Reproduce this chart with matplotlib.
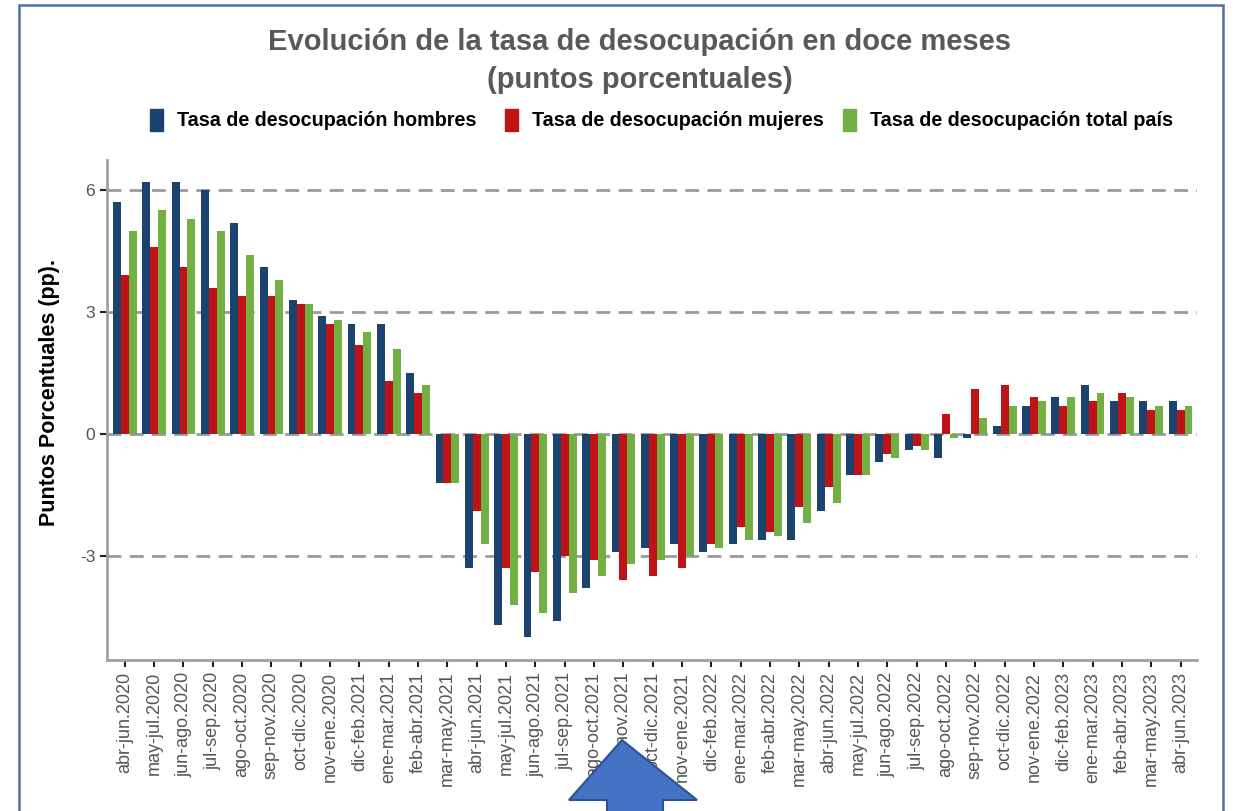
import numpy as np
import matplotlib.pyplot as plt
from matplotlib.patches import Rectangle, Polygon

periodos = ["abr-jun.2020", "may-jul.2020", "jun-ago.2020", "jul-sep.2020", "ago-oct.2020",
            "sep-nov.2020", "oct-dic.2020", "nov-ene.2020", "dic-feb.2021", "ene-mar.2021",
            "feb-abr.2021", "mar-may.2021", "abr-jun.2021", "may-jul.2021", "jun-ago.2021",
            "jul-sep.2021", "ago-oct.2021", "sep-nov.2021", "oct-dic.2021", "nov-ene.2021",
            "dic-feb.2022", "ene-mar.2022", "feb-abr.2022", "mar-may.2022", "abr-jun.2022",
            "may-jul.2022", "jun-ago.2022", "jul-sep.2022", "ago-oct.2022", "sep-nov.2022",
            "oct-dic.2022", "nov-ene.2022", "dic-feb.2023", "ene-mar.2023", "feb-abr.2023",
            "mar-may.2023", "abr-jun.2023"]

hombres = [5.7, 6.2, 6.2, 6.0, 5.2, 4.1, 3.3, 2.9, 2.7, 2.7,
           1.5, -1.2, -3.3, -4.7, -5.0, -4.6, -3.8, -2.9, -2.8, -2.7,
           -2.9, -2.7, -2.6, -2.6, -1.9, -1.0, -0.7, -0.4, -0.6, -0.1,
           0.2, 0.7, 0.9, 1.2, 0.8, 0.8, 0.8]
mujeres = [3.9, 4.6, 4.1, 3.6, 3.4, 3.4, 3.2, 2.7, 2.2, 1.3,
           1.0, -1.2, -1.9, -3.3, -3.4, -3.0, -3.1, -3.6, -3.5, -3.3,
           -2.7, -2.3, -2.4, -1.8, -1.3, -1.0, -0.5, -0.3, 0.5, 1.1,
           1.2, 0.9, 0.7, 0.8, 1.0, 0.6, 0.6]
total = [5.0, 5.5, 5.3, 5.0, 4.4, 3.8, 3.2, 2.8, 2.5, 2.1,
         1.2, -1.2, -2.7, -4.2, -4.4, -3.9, -3.5, -3.2, -3.1, -3.0,
         -2.8, -2.6, -2.5, -2.2, -1.7, -1.0, -0.6, -0.4, -0.1, 0.4,
         0.7, 0.8, 0.9, 1.0, 0.9, 0.7, 0.7]

c_h = "#1c4370"
c_m = "#c01318"
c_t = "#72b043"

plt.rcParams['font.family'] = ["Liberation Sans", "DejaVu Sans"]

fig = plt.figure(figsize=(12.35, 8.11), dpi=100)
ax = fig.add_axes([0.0866, 0.1862, 0.8824, 0.6165])

x = np.arange(len(periodos))
w = 0.27
ax.bar(x - w, hombres, w, color=c_h, zorder=3)
ax.bar(x, mujeres, w, color=c_m, zorder=3)
ax.bar(x + w, total, w, color=c_t, zorder=3)

for yv in [6, 3, 0, -3]:
    ax.axhline(yv, color="#9a9a9a", lw=2, ls=(0, (5, 3)), zorder=1)

ax.set_xlim(-0.61, len(periodos) - 1 + 0.55)
ax.set_ylim(-5.56, 6.74)
ax.set_yticks([6, 3, 0, -3])
ax.set_yticklabels(["6", "3", "0", "-3"])
ax.set_xticks(x)
ax.set_xticklabels(periodos, rotation=90)
ax.tick_params(axis='x', labelsize=13, colors="#222222", labelcolor="#555555", length=5, width=1.5)
ax.tick_params(axis='y', labelsize=12.5, colors="#222222", labelcolor="#555555", length=5, width=1.5)

for s in ["top", "right"]:
    ax.spines[s].set_visible(False)
ax.spines["left"].set_color("#a0a0a0")
ax.spines["left"].set_linewidth(2)
ax.spines["bottom"].set_color("#a0a0a0")
ax.spines["bottom"].set_linewidth(2)

# etiqueta eje y
fig.text(50 / 1235, 1 - 393 / 811, "Puntos Porcentuales (pp).", rotation=90, ha="center", va="center",
         fontsize=15.5, fontweight="bold", color="black")

# titulo
fig.text(0.518, 1 - 42 / 811, "Evolución de la tasa de desocupación en doce meses", ha="center", va="center",
         fontsize=21, fontweight="bold", color="#595959")
fig.text(0.518, 1 - 80 / 811, "(puntos porcentuales)", ha="center", va="center",
         fontsize=21, fontweight="bold", color="#595959")

# leyenda
ley = [(150, c_h, "Tasa de desocupación hombres"),
       (505, c_m, "Tasa de desocupación mujeres"),
       (843, c_t, "Tasa de desocupación total país")]
for xl, col, txt in ley:
    fig.patches.append(Rectangle((xl / 1235, 0.838), 0.0105, 0.027, transform=fig.transFigure,
                                 color=col, figure=fig))
    fig.text((xl + 27) / 1235, 0.851, txt, ha="left", va="center", fontsize=14.2, fontweight="bold",
             color="black")

# marco
fig.patches.append(Rectangle((19 / 1235, -0.05), (1223 - 19) / 1235, 1.05 - 5 / 811,
                             transform=fig.transFigure, fill=False, edgecolor="#4f6fa8",
                             lw=1.8, figure=fig))

# flecha
pts = [(622, 740), (697, 800), (663, 800), (663, 830), (607, 830), (607, 800), (569, 800)]
pts = [(px / 1235, 1 - py / 811) for px, py in pts]
fig.patches.append(Polygon(pts, closed=True, transform=fig.transFigure, facecolor="#4472c4",
                           edgecolor="#2f528f", lw=1.5, figure=fig, zorder=10))

fig.savefig("out.png", dpi=100)
